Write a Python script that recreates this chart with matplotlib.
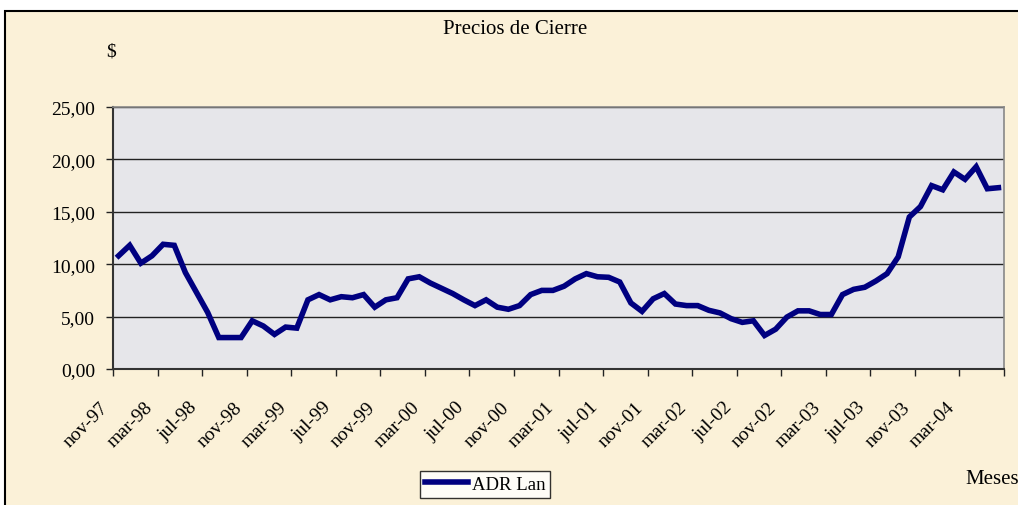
import matplotlib
matplotlib.use("Agg")
import matplotlib.pyplot as plt
import matplotlib.transforms as mtransforms
from matplotlib.patches import Rectangle
import numpy as np

plt.rcParams['font.family'] = ['Liberation Serif', 'DejaVu Serif']

# ---- data (monthly closing prices, nov-97 .. jun-04) ----
prices = [
    10.8, 11.8, 10.1, 10.8, 11.9, 11.8, 9.2, 7.3, 5.4, 3.0,
    3.0, 3.0, 4.6, 4.1, 3.3, 4.0, 3.9, 6.6, 7.1, 6.6,
    6.9, 6.8, 7.1, 5.9, 6.6, 6.8, 8.6, 8.8, 8.2, 7.7,
    7.2, 6.6, 6.05, 6.6, 5.9, 5.7, 6.05, 7.1, 7.5, 7.5,
    7.9, 8.6, 9.1, 8.8, 8.75, 8.3, 6.3, 5.5, 6.7, 7.2,
    6.2, 6.05, 6.05, 5.6, 5.35, 4.8, 4.45, 4.6, 3.2, 3.8,
    4.95, 5.55, 5.55, 5.2, 5.2, 7.1, 7.6, 7.8, 8.4, 9.1,
    10.7, 14.5, 15.5, 17.5, 17.1, 18.8, 18.1, 19.3, 17.2, 17.3,
]
tick_labels = ['nov-97', 'mar-98', 'jul-98', 'nov-98', 'mar-99', 'jul-99',
               'nov-99', 'mar-00', 'jul-00', 'nov-00', 'mar-01', 'jul-01',
               'nov-01', 'mar-02', 'jul-02', 'nov-02', 'mar-03', 'jul-03',
               'nov-03', 'mar-04']
y_ticks = [0, 5, 10, 15, 20, 25]
y_tick_labels = ['0,00', '5,00', '10,00', '15,00', '20,00', '25,00']
series_name = 'ADR Lan'

W, H = 1018, 506
fig = plt.figure(figsize=(W / 100, H / 100), dpi=100)
fig.patch.set_facecolor('white')

# chart area background with frame
bg = Rectangle((5 / W, -0.05), 1.1, 1 - 12 / H + 0.05, transform=fig.transFigure,
               facecolor='#FBF1D8', edgecolor='black', linewidth=1.5, zorder=-10)
fig.add_artist(bg)

ax = fig.add_axes([113 / W, 1 - 370 / H, (1004 - 113) / W, (370 - 108) / H])
ax.set_zorder(1)
ax.set_facecolor('#E6E6EA')

x = np.arange(len(prices))
line, = ax.plot(x, prices, color='#000080', linewidth=4, solid_joinstyle='miter',
                label=series_name, zorder=3)

n = len(prices)
ax.set_xlim(-0.5, n - 0.5)
ax.set_ylim(0, 25)

# y axis
ax.set_yticks(y_ticks)
ax.set_yticklabels(y_tick_labels, fontsize=14)
ax.tick_params(axis='y', direction='out', length=5, width=1, pad=8, color='#222222')
ax.yaxis.grid(True, color='#222222', linewidth=1)
ax.set_axisbelow(True)

# x axis: tick marks at category boundaries, labels at every 4th category
ax.set_xticks(np.arange(-0.5, n, 4))
ax.set_xticklabels([])
ax.tick_params(axis='x', which='major', direction='out', length=5, width=1, color='#222222')
label_pos = list(range(0, n, 4))
ax.set_xticks(label_pos, minor=True)
ax.set_xticklabels(tick_labels, minor=True, fontsize=14, rotation=45,
                   ha='right', va='top')
ax.tick_params(axis='x', which='minor', length=0, pad=21)
offset = mtransforms.ScaledTranslation(-7 / 100, 0, fig.dpi_scale_trans)
for lab in ax.get_xticklabels(minor=True):
    lab.set_transform(lab.get_transform() + offset)

for s in ['top', 'right']:
    ax.spines[s].set_color('#888888')
    ax.spines[s].set_linewidth(1.2)
for s in ['left', 'bottom']:
    ax.spines[s].set_color('#333333')
    ax.spines[s].set_linewidth(1.5)

# texts
fig.text(515 / W, 1 - 30 / H, 'Precios de Cierre', ha='center', va='center', fontsize=15)
fig.text(111 / W, 1 - 52 / H, '$', ha='center', va='center', fontsize=14)
fig.text(965 / W, 1 - 480 / H, 'Meses', ha='left', va='center', fontsize=15)

leg = fig.legend(handles=[line], loc='upper left',
                 bbox_to_anchor=(420 / W, 1 - 472 / H), fontsize=13.5,
                 frameon=True, fancybox=False, edgecolor='black',
                 handlelength=2.3, handletextpad=0.2, borderpad=0.25,
                 borderaxespad=0)
leg.get_frame().set_facecolor('white')
leg.get_frame().set_linewidth(1.0)

fig.savefig('out.png', dpi=100, facecolor=fig.get_facecolor())
